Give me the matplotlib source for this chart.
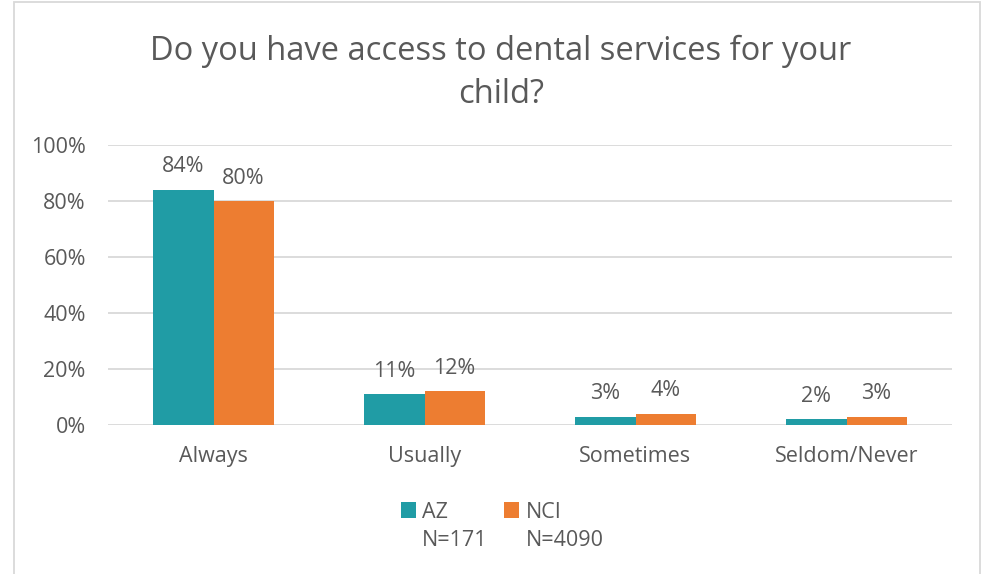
import matplotlib
matplotlib.use("Agg")
import matplotlib.pyplot as plt
from matplotlib.patches import Rectangle
import numpy as np

plt.rcParams['font.family'] = ['Open Sans', 'DejaVu Sans']

# data
categories = ["Always", "Usually", "Sometimes", "Seldom/Never"]
az_vals = [84, 11, 3, 2]
nci_vals = [80, 12, 4, 3]
series_names = ["AZ", "NCI"]
series_n = ["N=171", "N=4090"]
title = "Do you have access to dental services for your\nchild?"

teal = "#209CA5"
orange = "#ED7D31"
txt = "#595959"
grid = "#D9D9D9"
fs = 15.5

W, H = 982, 574
fig = plt.figure(figsize=(W / 100, H / 100), dpi=100)
# plot area in pixels: x 108..952, y 145..425
ax = fig.add_axes([108 / W, 1 - 425 / H, (952 - 108) / W, (425 - 145) / H])

x = np.arange(len(categories))
bw = 0.285
b1 = ax.bar(x - bw / 2, az_vals, bw, color=teal, label=series_names[0])
b2 = ax.bar(x + bw / 2, nci_vals, bw, color=orange, label=series_names[1])

for bars, vals in [(b1, az_vals), (b2, nci_vals)]:
    for r, v in zip(bars, vals):
        ax.annotate(f"{v}%", (r.get_x() + r.get_width() / 2, v),
                    xytext=(0, 9), textcoords="offset points",
                    ha="center", va="bottom", fontsize=fs, color=txt)

ax.set_xlim(-0.5, len(categories) - 0.5)
ax.set_ylim(0, 100)
ax.set_yticks(range(0, 101, 20))
ax.set_yticklabels([f"{t}%" for t in range(0, 101, 20)])
ax.set_xticks(x)
ax.set_xticklabels(categories)
ax.tick_params(axis="both", length=0, labelsize=fs, colors=txt)
ax.tick_params(axis="y", pad=16)
ax.tick_params(axis="x", pad=15)
ax.yaxis.grid(True, color=grid, linewidth=1.3)
ax.set_axisbelow(True)
for s in ax.spines.values():
    s.set_visible(False)

fig.text(501 / W, 1 - 73 / H, title, ha="center", va="center",
         fontsize=23.5, color=txt, linespacing=1.42)

leg = fig.legend(loc="center", bbox_to_anchor=(481 / W, 1 - 512 / H), ncol=2,
                 frameon=False, fontsize=fs, handlelength=0.7, handleheight=0.7,
                 handletextpad=0.3, columnspacing=2.6, labelcolor=txt)

fig.canvas.draw()
inv = fig.transFigure.inverted()
for t, n in zip(leg.get_texts(), series_n):
    bb = t.get_window_extent()
    x0, y0 = inv.transform((bb.x0, bb.y0))
    fig.text(x0, y0 - 28 / H, n, ha="left", va="bottom", fontsize=fs, color=txt)

fig.patches.append(Rectangle((14 / W, -0.1), (980 - 14) / W, 1.1 - 1.5 / H,
                             transform=fig.transFigure, fill=False,
                             edgecolor=grid, linewidth=1.3))

fig.savefig("out.png", dpi=100)
